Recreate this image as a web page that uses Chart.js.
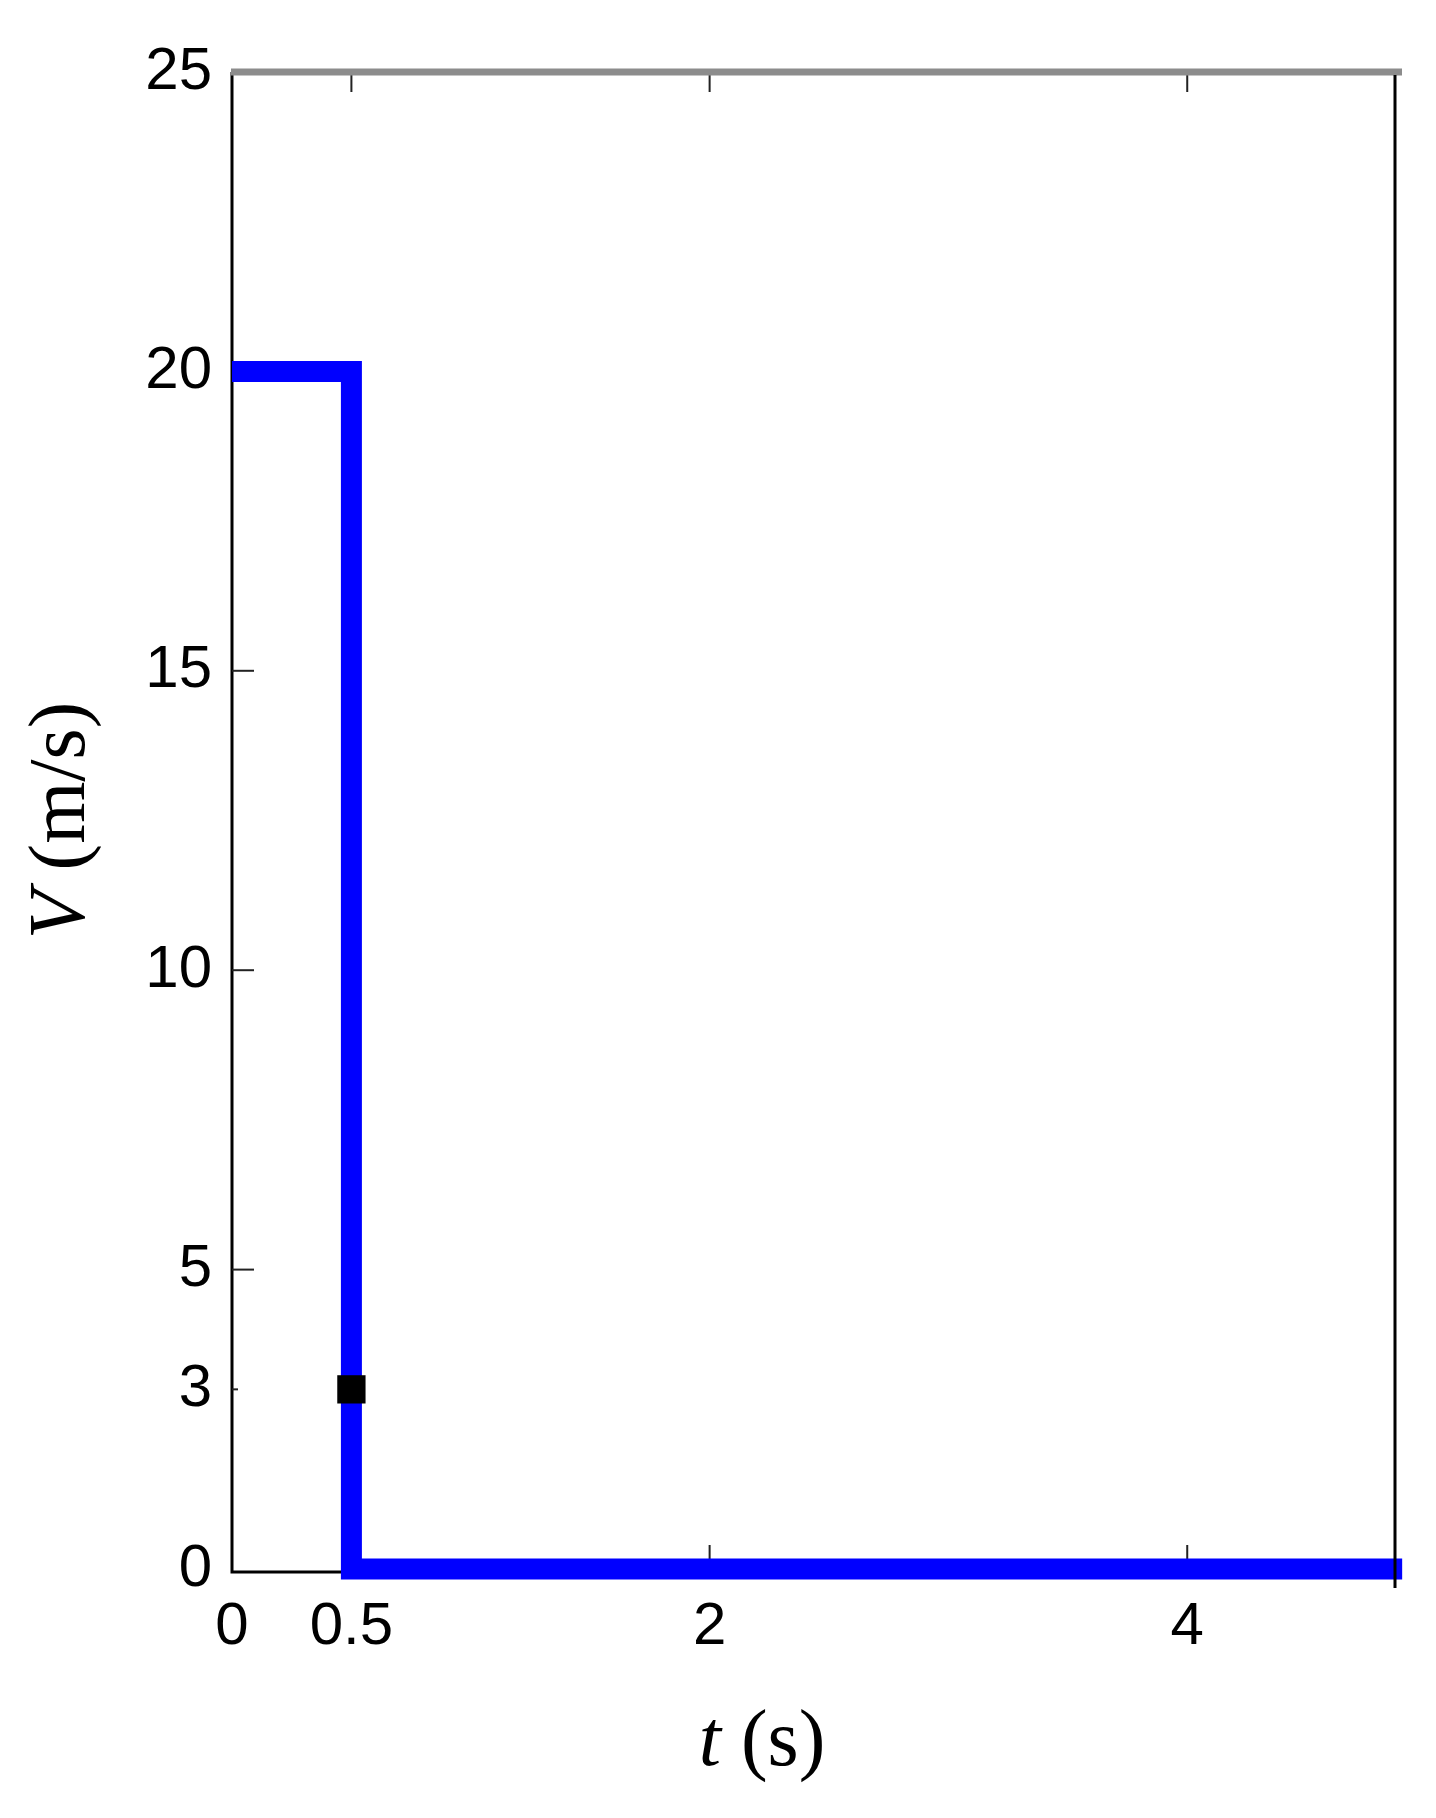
<!DOCTYPE html>
<html>
<head>
<meta charset="utf-8">
<script src="https://cdn.jsdelivr.net/npm/chart.js@4"></script>
<style>
  html, body { margin: 0; padding: 0; background: #fff; }
  #wrap { width: 1436px; height: 1818px; }
</style>
</head>
<body>
<div id="wrap"><canvas id="velChart" width="1436" height="1818"></canvas></div>
<script>
// ─── DATA ───
const TIME     = [0, 0.5, 0.5, 4.9];   // s
const VELOCITY = [20, 20, 0, 0];       // m/s
const MARK_T   = [0.5];
const MARK_V   = [3];
const X_TICKS  = [0, 0.5, 2, 4];
const Y_TICKS  = [0, 3, 5, 10, 15, 20, 25];
const X_MAX    = 4.87;
const Y_MAX    = 25;

const SANS  = '"Liberation Sans", Arial, sans-serif';
const SERIF = '"Liberation Serif", "Times New Roman", serif';

// frame, inward ticks and mixed-font axis titles
const framePlugin = {
  id: 'frame',
  beforeDatasetsDraw(chart) {
    const { ctx, chartArea: a, scales: { x, y } } = chart;
    ctx.save();
    // left + bottom axis lines
    ctx.strokeStyle = '#000';
    ctx.lineWidth = 3;
    ctx.beginPath();
    ctx.moveTo(a.left, a.top);
    ctx.lineTo(a.left, a.bottom + 3);
    ctx.lineTo(a.right, a.bottom + 3);
    ctx.stroke();
    // y ticks pointing in
    ctx.strokeStyle = '#222';
    ctx.lineWidth = 2;
    Y_TICKS.filter(v => v > 0 && v < Y_MAX).forEach(v => {
      const py = y.getPixelForValue(v);
      const len = v === 3 ? 6 : 22;
      ctx.beginPath();
      ctx.moveTo(a.left, py);
      ctx.lineTo(a.left + len, py);
      ctx.stroke();
    });
    // x ticks top and bottom
    X_TICKS.filter(v => v > 0).forEach(v => {
      const px = x.getPixelForValue(v);
      ctx.beginPath();
      ctx.moveTo(px, a.top);
      ctx.lineTo(px, a.top + 20);
      ctx.moveTo(px, a.bottom);
      ctx.lineTo(px, a.bottom - 24);
      ctx.stroke();
    });
    ctx.restore();
  },
  afterDatasetsDraw(chart) {
    const { ctx, chartArea: a } = chart;
    ctx.save();
    // top border (grey) and right border (black)
    ctx.strokeStyle = '#8c8c8c';
    ctx.lineWidth = 7;
    ctx.beginPath();
    ctx.moveTo(a.left - 1, a.top);
    ctx.lineTo(a.right + 7, a.top);
    ctx.stroke();
    ctx.strokeStyle = '#000';
    ctx.lineWidth = 3;
    ctx.beginPath();
    ctx.moveTo(a.right, a.top + 3);
    ctx.lineTo(a.right, a.bottom + 19);
    ctx.stroke();

    // axis titles: italic symbol + upright unit
    ctx.fillStyle = '#000';
    ctx.textBaseline = 'alphabetic';
    const drawTitle = (sym, unit) => {
      ctx.font = `italic 80px ${SERIF}`;
      const w1 = ctx.measureText(sym).width;
      ctx.font = `80px ${SERIF}`;
      const w2 = ctx.measureText(unit).width;
      const x0 = -(w1 + w2) / 2;
      ctx.font = `italic 80px ${SERIF}`;
      ctx.fillText(sym, x0, 0);
      ctx.font = `80px ${SERIF}`;
      ctx.fillText(unit, x0 + w1, 0);
    };
    ctx.save();
    ctx.translate(762, 1765);
    drawTitle('t', ' (s)');
    ctx.restore();
    ctx.save();
    ctx.translate(84, (a.top + a.bottom) / 2);
    ctx.rotate(-Math.PI / 2);
    drawTitle('V', ' (m/s)');
    ctx.restore();
    ctx.restore();
  },
};

const ctx = document.getElementById('velChart').getContext('2d');
new Chart(ctx, {
  type: 'scatter',
  data: {
    datasets: [
      {
        label: 'mark',
        data: MARK_T.map((t, i) => ({ x: t, y: MARK_V[i] })),
        pointStyle: 'rect', pointRadius: 20,
        backgroundColor: '#000', borderColor: '#000', borderWidth: 0,
        clip: false,
      },
      {
        label: 'V',
        data: TIME.map((t, i) => ({ x: t, y: VELOCITY[i] })),
        showLine: true, borderColor: '#0000ff', borderWidth: 21,
        borderJoinStyle: 'miter', borderCapStyle: 'butt',
        pointRadius: 0, tension: 0, clip: false,
      },
    ],
  },
  options: {
    responsive: false, animation: false, devicePixelRatio: 1,
    layout: { padding: { top: 72, right: 41, left: 0, bottom: 0 } },
    plugins: { legend: { display: false }, tooltip: { enabled: false } },
    scales: {
      x: {
        type: 'linear', min: 0, max: X_MAX,
        afterBuildTicks: s => { s.ticks = X_TICKS.map(v => ({ value: v })); },
        afterFit: s => { s.height = 249; },
        grid: { display: false, drawTicks: false },
        border: { display: false },
        ticks: { color: '#000', padding: 22, maxRotation: 0, autoSkip: false, font: { family: SANS, size: 60 } },
      },
      y: {
        type: 'linear', min: 0, max: Y_MAX,
        afterBuildTicks: s => { s.ticks = Y_TICKS.map(v => ({ value: v })); },
        afterFit: s => { s.width = 232; },
        grid: { display: false, drawTicks: false },
        border: { display: false },
        ticks: { color: '#000', padding: 20, autoSkip: false, font: { family: SANS, size: 60 } },
      },
    },
  },
  plugins: [framePlugin],
});
</script>
</body>
</html>
